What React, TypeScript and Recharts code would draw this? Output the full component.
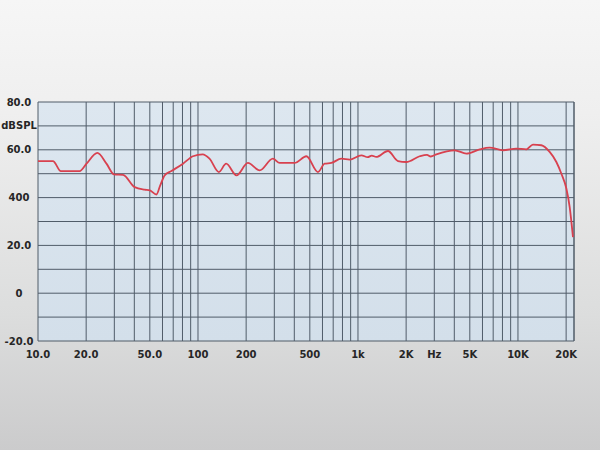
import React from 'react'
import { LineChart, Line, XAxis, YAxis, CartesianGrid, ReferenceLine } from 'recharts'

// frequency response
const freqs = [
  10, 12.4, 13.9, 18.2, 20.1, 23.5, 26.8, 29.9, 34, 40.2, 46.4, 50, 55, 58, 61.9, 68.2,
  80.6, 93, 107, 118, 135, 150, 174, 205, 243, 294, 324, 402, 476, 562, 619, 682,
  787, 887, 1050, 1150, 1220, 1300, 1540, 1778, 2007, 2430, 2700, 2850, 3090, 4020, 4760, 5770, 6650,
  8060, 9770, 11290, 12410, 14000, 15780, 17380, 18680, 20070, 21040, 22070,
]
const spl = [
  55.3, 55.3, 51.1, 51.1, 54.2, 58.7, 54.2, 49.7, 49.5, 44.4, 43.3, 43.0, 41.3, 45, 49.3, 51.1,
  54.2, 57.3, 58.1, 56.3, 50.7, 54.2, 49.3, 54.5, 51.4, 56.3, 54.5, 54.5, 57.3, 50.7, 54.2, 54.5,
  56.3, 55.9, 57.7, 56.9, 57.6, 57.0, 59.5, 55.3, 54.9, 57.3, 57.9, 57.2, 58.1, 59.8, 58.4, 60.2, 60.9,
  59.8, 60.5, 60.2, 62.2, 61.9, 59.1, 54.9, 50.0, 43.8, 36.1, 23.5,
]

const xLabelValues = [10, 20, 50, 100, 200, 500, 1000, 2000, 3000, 5000, 10000, 20000]
const xLabels = ['10.0', '20.0', '50.0', '100', '200', '500', '1k', '2K', 'Hz', '5K', '10K', '20K']
const yTicks = [-20, -10, 0, 10, 20, 30, 40, 50, 60, 70, 80]
const yLabels: Record<number, string> = { 80: '80.0', 70: 'dBSPL', 60: '60.0', 40: '400', 20: '20.0', 0: '0', '-20': '-20.0' }

const gridFreqs = [10, 100, 1000, 10000].flatMap((d) => [1, 2, 3, 4, 5, 6, 7, 8, 9].map((m) => m * d)).filter((f) => f <= 20000)

const data = freqs.map((f, i) => ({ f, db: spl[i] }))

const labelStyle = { fontFamily: 'DejaVu Sans', fontSize: 10, fontWeight: 700, fill: '#262626' }

function XTick(props: any) {
  const i = xLabelValues.indexOf(props.payload.value)
  if (i < 0) return <g />
  return (
    <text x={props.x} y={props.y + 5} textAnchor="middle" dominantBaseline="central" style={labelStyle}>
      {xLabels[i]}
    </text>
  )
}

function YTick(props: any) {
  const label = yLabels[props.payload.value]
  if (!label) return <g />
  return (
    <text x={19} y={props.y} textAnchor="middle" dominantBaseline="central" style={labelStyle}>
      {label}
    </text>
  )
}

export default function App() {
  return (
    <div
      style={{
        position: 'absolute', top: 0, left: 0, width: 600, height: 450,
        background: 'linear-gradient(to bottom, #f6f6f6 0%, #efefef 25%, #dcdddd 70%, #cbcbcc 100%)',
      }}
    >
      <div
        style={{
          position: 'absolute', left: 38, top: 102, width: 536, height: 239,
          background: 'linear-gradient(to bottom, #dde7f0, #d3dfea)',
        }}
      />
      <LineChart width={600} height={450} data={data} margin={{ top: 102, right: 26, bottom: 0, left: 0 }} style={{ position: 'absolute', top: 0, left: 0 }}>
        <CartesianGrid stroke="#505c69" strokeWidth={1} horizontal vertical />
        <XAxis
          dataKey="f" type="number" scale="log" domain={[10, 22400]} allowDataOverflow
          ticks={gridFreqs} tick={<XTick />} tickLine={false} axisLine={false} height={109} interval={0}
        />
        <YAxis
          type="number" domain={[-20, 80]} ticks={yTicks} tick={<YTick />}
          tickLine={false} axisLine={false} width={38} interval={0}
        />
        <ReferenceLine x={22400} stroke="#505c69" strokeWidth={1} />
        <Line type="monotone" dataKey="db" stroke="#d8414f" strokeWidth={1.8} dot={false} isAnimationActive={false} />
      </LineChart>
    </div>
  )
}
